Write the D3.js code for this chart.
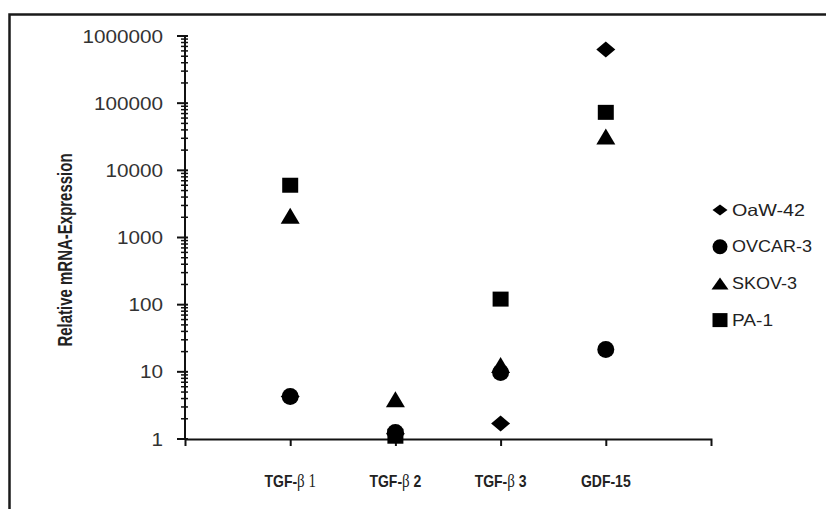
<!DOCTYPE html>
<html>
<head>
<meta charset="utf-8">
<script src="https://cdn.jsdelivr.net/npm/d3@7"></script>
<style>
  html, body { margin: 0; padding: 0; background: #fff; }
  svg { display: block; }
</style>
</head>
<body>
<svg id="chart" width="826" height="509"></svg>
<script>
// ---- data ----
const categories = ["TGF-β 1", "TGF-β 2", "TGF-β 3", "GDF-15"];
const seriesNames = ["OaW-42", "OVCAR-3", "SKOV-3", "PA-1"];
const oaw42  = [4.3, 1.2, 1.7, 630000];
const ovcar3 = [4.3, 1.25, 9.8, 21.5];
const skov3  = [2100, 3.9, 12.6, 31800];
const pa1    = [6000, 1.1, 121, 73000];
const yTickValues = [1, 10, 100, 1000, 10000, 100000, 1000000];
const yTitle = "Relative mRNA-Expression";

const seriesValues = [oaw42, ovcar3, skov3, pa1];
const shapes = ["diamond", "circle", "triangle", "square"];

// ---- layout ----
const plotLeft = 185, plotRight = 711, plotTop = 36, plotBottom = 439;
const ink = "#111";
const svg = d3.select("#chart");

// outer frame
svg.append("rect").attr("x", 9.5).attr("y", 14.5).attr("width", 900).attr("height", 600)
  .attr("fill", "none").attr("stroke", "#1a1a1a").attr("stroke-width", 2.5);

const x = d3.scalePoint().domain(categories).range([plotLeft, plotRight]).padding(1);
const y = d3.scaleLog().domain([1, 1000000]).range([plotBottom, plotTop]);

// y axis
const gy = svg.append("g");
gy.append("line").attr("x1", plotLeft).attr("x2", plotLeft).attr("y1", plotTop).attr("y2", plotBottom)
  .attr("stroke", ink).attr("stroke-width", 2);
const minor = y.ticks().filter(v => !yTickValues.includes(v));
gy.selectAll(".minor").data(minor).join("line")
  .attr("x1", plotLeft - 4).attr("x2", plotLeft + 3)
  .attr("y1", d => y(d)).attr("y2", d => y(d))
  .attr("stroke", ink).attr("stroke-width", 1.5);
gy.selectAll(".major").data(yTickValues).join("line")
  .attr("x1", plotLeft - 8).attr("x2", plotLeft + 3)
  .attr("y1", d => y(d)).attr("y2", d => y(d))
  .attr("stroke", ink).attr("stroke-width", 2);
gy.selectAll(".lab").data(yTickValues).join("text")
  .attr("transform", d => `translate(${plotLeft - 22},${y(d) + 6.5}) scale(1.15,1)`)
  .attr("text-anchor", "end")
  .attr("font-family", "Liberation Sans, Arial, sans-serif")
  .attr("font-size", 18)
  .attr("fill", "#333")
  .text(d => d3.format("d")(d));

// x axis
const gx = svg.append("g").attr("transform", `translate(0,${plotBottom})`)
  .call(d3.axisBottom(x).tickSize(7).tickSizeOuter(7).tickFormat(""));
gx.select(".domain").attr("stroke", ink).attr("stroke-width", 2);
gx.selectAll(".tick line").attr("stroke", ink).attr("stroke-width", 2);

// x labels
categories.forEach((c, i) => {
  const parts = c.split("β");
  const g = svg.append("g").attr("transform", `translate(${x(c)},487) scale(1,1.2)`);
  const t = g.append("text").attr("text-anchor", "middle").attr("fill", "#222")
    .attr("font-family", "Liberation Sans, Arial, sans-serif").attr("font-size", 14).attr("font-weight", "bold");
  if (parts.length === 2) {
    t.append("tspan").text(parts[0]);
    t.append("tspan").attr("font-family", "Liberation Serif, Times New Roman, serif").attr("font-weight", "normal")
      .attr("font-size", 15).text("β");
    const num = parts[1];
    if (i === 0) {
      t.append("tspan").attr("font-family", "Liberation Serif, Times New Roman, serif").attr("font-weight", "normal")
        .attr("font-size", 15).text(num);
    } else {
      t.append("tspan").text(num);
    }
  } else {
    t.text(c);
  }
});

// y title
svg.append("text")
  .attr("transform", "translate(72,250) rotate(-90) scale(1,1.3)")
  .attr("text-anchor", "middle")
  .attr("font-family", "Liberation Sans, Arial, sans-serif")
  .attr("font-size", 15).attr("font-weight", "bold").attr("fill", "#222")
  .text(yTitle);

// marker path generator
function shapePath(shape, w, h) {
  const p = d3.path();
  if (shape === "diamond") {
    p.moveTo(0, -h / 2); p.lineTo(w / 2, 0); p.lineTo(0, h / 2); p.lineTo(-w / 2, 0); p.closePath();
  } else if (shape === "triangle") {
    p.moveTo(0, -h / 2); p.lineTo(w / 2, h / 2); p.lineTo(-w / 2, h / 2); p.closePath();
  } else {
    p.rect(-w / 2, -h / 2, w, h);
  }
  return p.toString();
}
const markerSize = { diamond: [19, 16], circle: [17, 17], triangle: [19, 16], square: [16, 15] };
const legendSize = { diamond: [15, 11], circle: [15, 14], triangle: [17, 12], square: [15, 14] };
function markerD(shape, size) {
  if (shape === "circle") return d3.symbol(d3.symbolCircle, Math.PI * (size[0] / 2) * (size[0] / 2))();
  return shapePath(shape, size[0], size[1]);
}

// points (drawn in series order)
seriesValues.forEach((vals, si) => {
  const shape = shapes[si];
  svg.append("g").selectAll("path").data(vals).join("path")
    .attr("transform", (d, i) => `translate(${x(categories[i])},${y(d)})`)
    .attr("d", markerD(shape, markerSize[shape]))
    .attr("fill", "#000");
});

// legend
const legendLens = [73, 80, 65, 41];
const lg = svg.append("g").attr("transform", "translate(720,210)");
seriesNames.forEach((n, i) => {
  const shape = shapes[i];
  const row = lg.append("g").attr("transform", `translate(0,${i * 36.7})`);
  row.append("path").attr("d", markerD(shape, legendSize[shape])).attr("fill", "#000");
  row.append("text").attr("x", 12).attr("y", 5.5)
    .attr("font-family", "Liberation Sans, Arial, sans-serif").attr("font-size", 16.5)
    .attr("fill", "#222")
    .attr("textLength", legendLens[i]).attr("lengthAdjust", "spacingAndGlyphs")
    .text(n);
});
</script>
</body>
</html>
